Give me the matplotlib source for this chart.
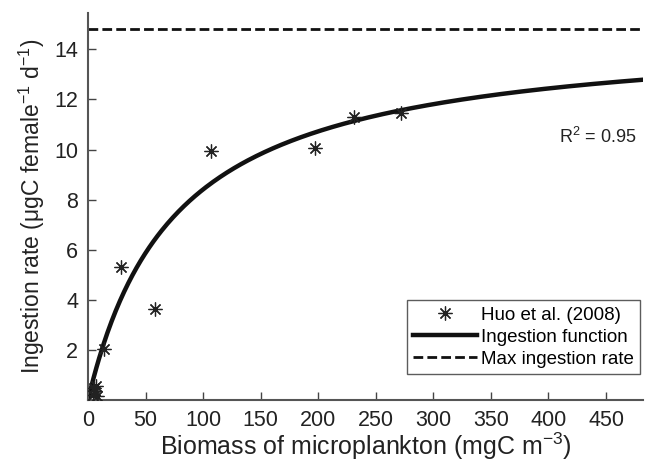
import matplotlib
matplotlib.use("Agg")
import matplotlib.pyplot as plt
import numpy as np

plt.rcParams['font.family'] = ['Liberation Sans', 'DejaVu Sans']
plt.rcParams['mathtext.fontset'] = 'custom'
plt.rcParams['mathtext.rm'] = 'Liberation Sans'
plt.rcParams['mathtext.it'] = 'Liberation Sans:italic'

# Huo et al. (2008) observations
biomass_obs = [4, 5, 6, 7, 8, 13.5, 29, 58, 107, 197, 231, 272]
ingestion_obs = [0.2, 0.5, 0.35, 0.55, 0.15, 2.05, 5.3, 3.65, 9.95, 10.05, 11.3, 11.45]

# ingestion function parameters (Holling type II)
i_max = 14.8
k_half = 76.0
x_max = 482

x_ticks = [0, 50, 100, 150, 200, 250, 300, 350, 400, 450]
y_ticks = [2, 4, 6, 8, 10, 12, 14]

fig = plt.figure(figsize=(6.49, 4.61), dpi=100)
ax = fig.add_axes([0.1356, 0.132, 0.855, 0.84])

b = np.linspace(0, x_max, 400)
ax.plot(biomass_obs, ingestion_obs, linestyle='none', marker=(8, 2, 0),
        markersize=10, markeredgewidth=0.9, color='#222222',
        label='Huo et al. (2008)', zorder=3)
ax.plot(b, i_max * b / (k_half + b), color='#111111', lw=3.2,
        label='Ingestion function')
ax.axhline(i_max, color='#111111', lw=2.0, ls=(0, (3.5, 1.5)),
           label='Max ingestion rate')

ax.set_xlim(0, x_max)
ax.set_ylim(0, 15.45)
ax.set_xticks(x_ticks)
ax.set_yticks(y_ticks)
ax.tick_params(direction='in', length=6, width=1.0, colors='#444444',
               labelsize=15.5, labelcolor='#222222', pad=7)
for side in ['top', 'right']:
    ax.spines[side].set_visible(False)
for side in ['left', 'bottom']:
    ax.spines[side].set_color('#555555')
    ax.spines[side].set_linewidth(1.5)

ax.set_xlabel('Biomass of microplankton (mgC m$^{-3}$)', fontsize=18,
              color='#222222', labelpad=0)
ax.set_ylabel('Ingestion rate (μgC female$^{-1}$ d$^{-1}$)', fontsize=16.5,
              color='#222222', labelpad=5)

ax.text(0.989, 0.68, 'R$^2$ = 0.95', transform=ax.transAxes, ha='right',
        va='center', fontsize=13, color='#222222')

leg = ax.legend(loc='lower right', bbox_to_anchor=(0.995, 0.067),
                fontsize=13.5, frameon=True, fancybox=False,
                edgecolor='#333333', borderpad=0.35, labelspacing=0.25,
                handlelength=3.4, handletextpad=0.2, borderaxespad=0)
leg.get_frame().set_linewidth(1.0)

fig.savefig('out.png', dpi=100)
